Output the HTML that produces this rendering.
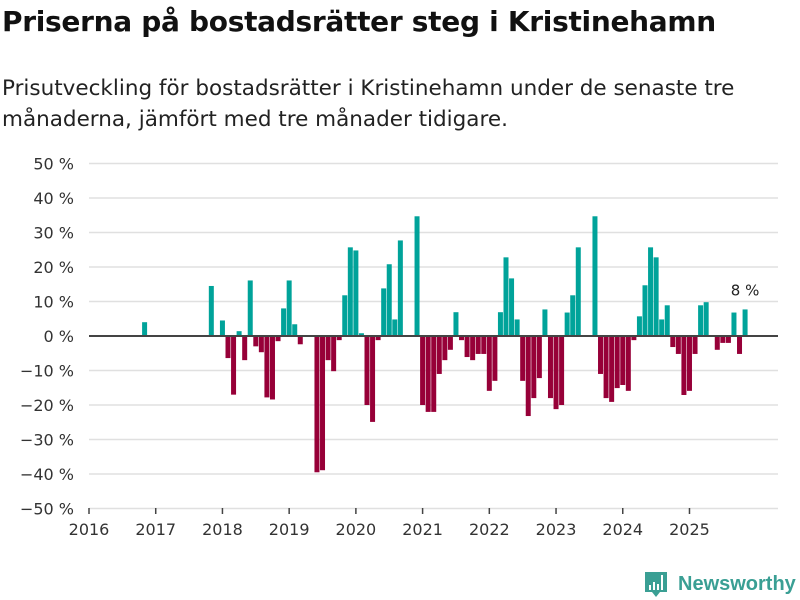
<!DOCTYPE html>
<html><head><meta charset="utf-8">
<style>
body{margin:0;width:800px;height:600px;background:#fff;font-family:"DejaVu Sans","Liberation Sans",sans-serif;overflow:hidden;position:relative;color:#111}
h1{position:absolute;left:2px;top:5px;margin:0;font-size:28px;font-weight:bold;letter-spacing:-0.3px}
p{position:absolute;left:2px;top:73px;margin:0;font-size:21.5px;line-height:31px;color:#222;width:790px}
svg{position:absolute;left:0;top:0}
</style></head><body>
<h1>Priserna på bostadsrätter steg i Kristinehamn</h1>
<p>Prisutveckling för bostadsrätter i Kristinehamn under de senaste tre månaderna, jämfört med tre månader tidigare.</p>
<svg id="chart" width="800" height="600"></svg>
<script>
const monthIdx=[10,22,24,25,26,27,28,29,30,31,32,33,34,35,36,37,38,41,42,43,44,45,46,47,48,49,50,51,52,53,54,55,56,59,60,61,62,63,64,65,66,67,68,69,70,71,72,73,74,75,76,77,78,79,80,81,82,83,84,85,86,87,88,91,92,93,94,95,96,97,98,99,100,101,102,103,104,105,106,107,108,109,110,111,113,114,115,116,117,118];
const values=[4,14.5,4.5,-6.4,-17,1.4,-7,16.1,-3,-4.7,-17.8,-18.4,-1.5,8,16.1,3.4,-2.4,-39.5,-38.9,-7,-10.2,-1.2,11.8,25.7,24.8,0.8,-20,-24.9,-1.2,13.8,20.8,4.8,27.7,34.7,-20,-22,-22,-11,-7,-4,6.9,-1.2,-6.1,-7,-5.2,-5.2,-15.9,-13,6.9,22.8,16.7,4.8,-13,-23.2,-18,-12.2,7.7,-18,-21.2,-20,6.8,11.8,25.7,34.7,-11,-18,-19.1,-15.1,-14.2,-15.9,-1.2,5.7,14.7,25.7,22.8,4.8,8.9,-3.2,-5.2,-17.1,-15.9,-5.2,8.9,9.8,-4,-2,-2,6.8,-5.2,7.7];
const yTicks=[50,40,30,20,10,0,-10,-20,-30,-40,-50];
const years=[2016,2017,2018,2019,2020,2021,2022,2023,2024,2025];
const lastLabel="8 %";
const svg=document.getElementById('chart');
const NS='http://www.w3.org/2000/svg';
const X0=89,STEP=5.56,Y0=336,PX=3.45;
const x=i=>X0+i*STEP;
const y=v=>Y0-v*PX;
function mk(t,a){const e=document.createElementNS(NS,t);for(const k in a)e.setAttribute(k,a[k]);svg.appendChild(e);return e;}
yTicks.forEach(v=>{
  if(v!==0){const g=mk('line',{x1:89,x2:778,y1:y(v),y2:y(v),stroke:'#e0e0e0','stroke-width':1.5});
  
  }
  const t=mk('text',{x:74,y:y(v)+6,'text-anchor':'end','font-size':16,fill:'#333'});
  
  
  t.textContent=(v<0?'\u2212'+(-v):v)+' %';
});
monthIdx.forEach((m,k)=>{
  const v=values[k];
  const r=mk('rect',{x:x(m)-2.5,width:5,y:Math.min(y(v),Y0),height:Math.abs(y(v)-Y0),fill:v>=0?'#00a39a':'#970038'});
  
  
});
const zl=mk('line',{x1:89,x2:778,y1:Y0,y2:Y0,stroke:'#444','stroke-width':2});


years.forEach((yr,k)=>{
  const xx=x(k*12);
  const tk=mk('line',{x1:xx,x2:xx,y1:508,y2:514,stroke:'#444','stroke-width':1.5});
  
  
  const t=mk('text',{x:xx,y:535,'text-anchor':'middle','font-size':16,fill:'#333'});
  
  
  t.textContent=yr;
});
const li=monthIdx.length-1;
const lb=mk('text',{x:x(monthIdx[li]),y:y(values[li])-14,'text-anchor':'middle','font-size':15,fill:'#222'});


lb.textContent=lastLabel;
const lg=mk('g',{});


const ic=document.createElementNS(NS,'path');
ic.setAttribute('d','M645 572h22v20h-7l-4 5l-4-5h-7z');ic.setAttribute('fill','#3a9f94');lg.appendChild(ic);
[[649,585,2,5],[653,582,2,8],[657,584,2,6],[661,575,2,15]].forEach(b=>{const r=document.createElementNS(NS,'rect');r.setAttribute('x',b[0]);r.setAttribute('y',b[1]);r.setAttribute('width',b[2]);r.setAttribute('height',b[3]);r.setAttribute('fill','#fff');lg.appendChild(r);});
const lt=document.createElementNS(NS,'text');
lt.setAttribute('x',678);lt.setAttribute('y',590);lt.setAttribute('font-size',20);lt.setAttribute('font-weight','bold');lt.setAttribute('fill','#3a9f94');lt.setAttribute('font-family','Liberation Sans, sans-serif');
lt.textContent='Newsworthy';lg.appendChild(lt);
</script>
</body></html>
